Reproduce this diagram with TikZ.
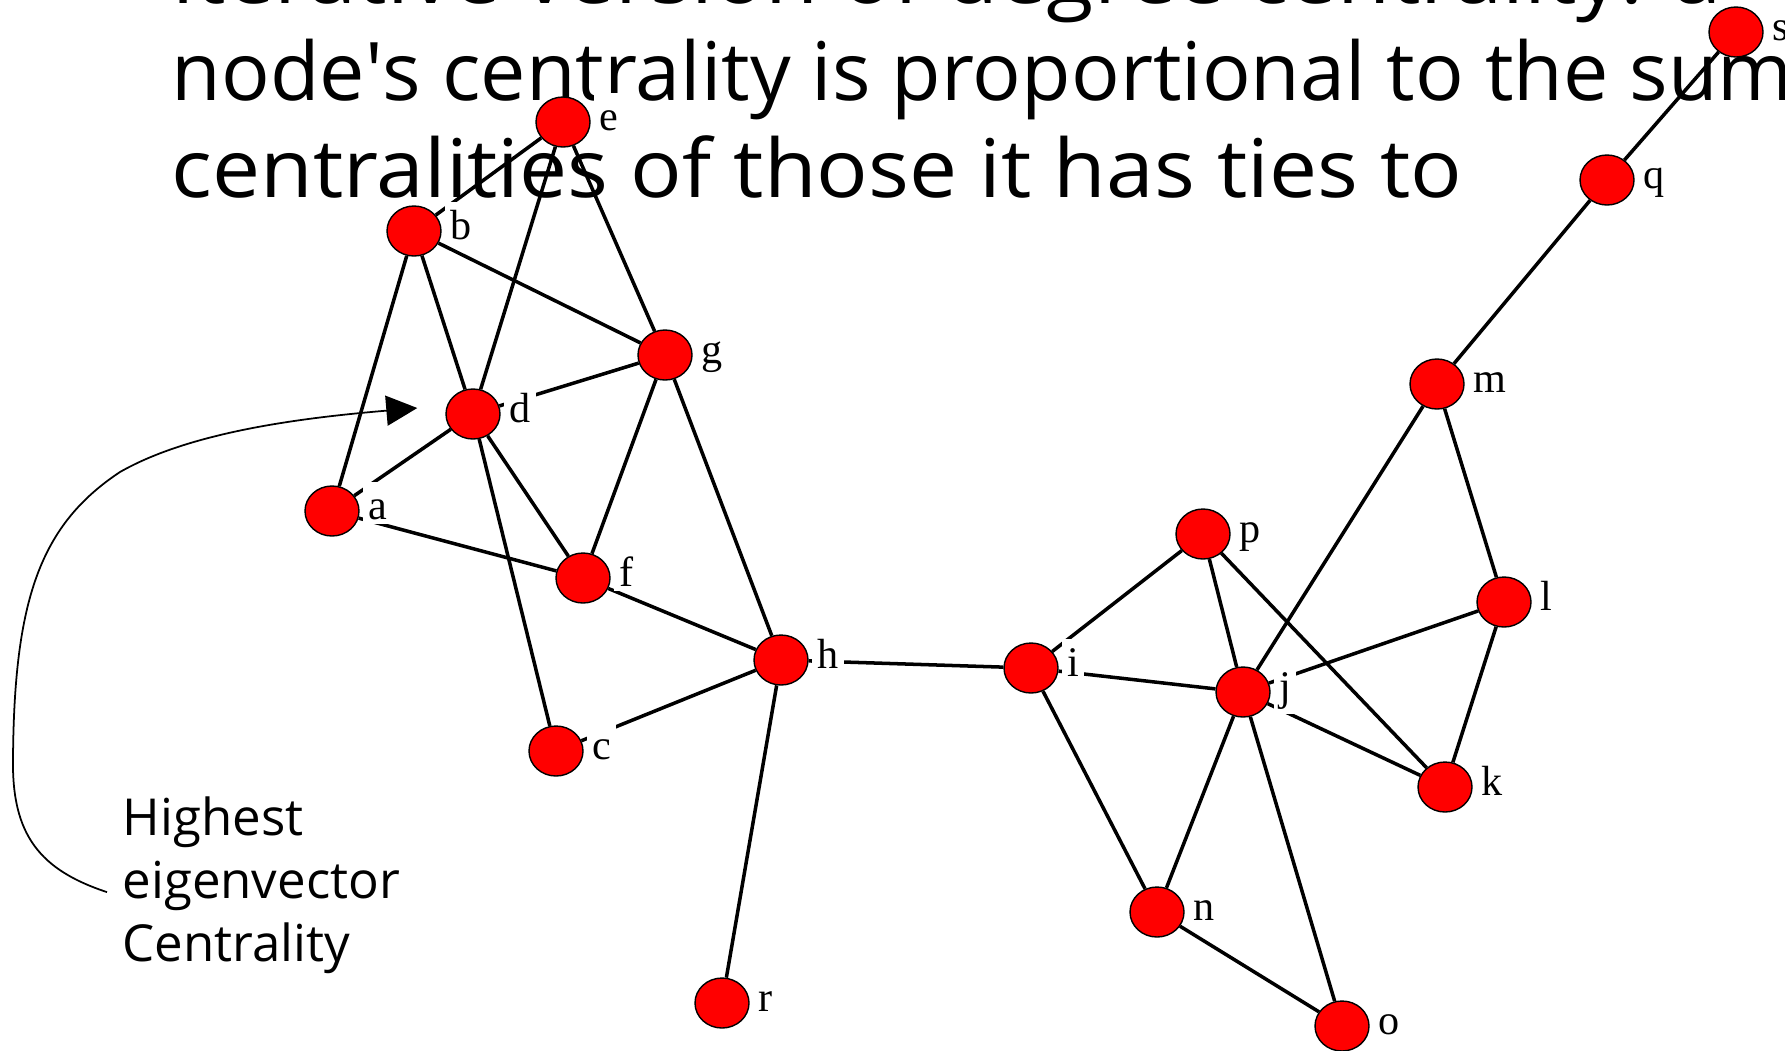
\documentclass[tikz,border=0pt]{standalone}
\usepackage{fontspec}
\newfontfamily\titlefont{Open Sans}
\newfontfamily\labfont{Liberation Serif}
\usetikzlibrary{shapes.geometric, arrows.meta, backgrounds}

\tikzset{
  vertex/.style={ellipse, draw=black, line width=0.4pt, fill=red,
    minimum width=0.54cm, minimum height=0.50cm, inner sep=0pt},
  lab/.style={fill=white, inner sep=0.05cm, text height=0.32cm, anchor=base west,
    yshift=-0.08cm, font=\labfont\fontsize{12}{12}\selectfont},
  tie/.style={line width=1pt, black},
}

\begin{document}
\begin{tikzpicture}[label distance=0.03cm]
	\useasboundingbox (0,0) rectangle (17.85,-10.5);
	\clip (0,0) rectangle (17.85,-10.5);
	
	% heading, cut at the top
	\begin{scope}[font=\titlefont\fontsize{23}{27}\selectfont, inner sep=0pt]
		\node[anchor=base west, xscale=1.07, transform shape] (title1) at (1.71,-0.03) {Iterative version of degree centrality: a};
		\node[anchor=base west] (title2) at (1.71,-1.00) {node\textquotesingle s centrality is proportional to the sum};
		\node[anchor=base west, xscale=1.06, transform shape] (title3) at (1.71,-1.97) {centralities of those it has ties to};
	\end{scope}
	
	% actors
	\node[vertex, label={[lab]right:s}] (s) at (17.36,-0.32) {};
	\node[vertex, label={[lab]right:e}] (e) at (5.63,-1.22) {};
	\node[vertex, label={[lab]right:q}] (q) at (16.07,-1.80) {};
	\node[vertex, label={[lab]right:b}] (b) at (4.14,-2.31) {};
	\node[vertex, label={[lab]right:g}] (g) at (6.65,-3.55) {};
	\node[vertex, label={[lab]right:m}] (m) at (14.37,-3.84) {};
	\node[vertex, label={[lab]right:d}] (d) at (4.73,-4.14) {};
	\node[vertex, label={[lab]right:a}] (a) at (3.32,-5.11) {};
	\node[vertex, label={[lab]right:p}] (p) at (12.03,-5.34) {};
	\node[vertex, label={[lab]right:f}] (f) at (5.83,-5.78) {};
	\node[vertex, label={[lab]right:l}] (l) at (15.04,-6.02) {};
	\node[vertex, label={[lab]right:h}] (h) at (7.81,-6.60) {};
	\node[vertex, label={[lab]right:i}] (i) at (10.31,-6.68) {};
	\node[vertex, label={[lab]right:j}] (j) at (12.43,-6.92) {};
	\node[vertex, label={[lab]right:c}] (c) at (5.56,-7.51) {};
	\node[vertex, label={[lab]right:k}] (k) at (14.45,-7.87) {};
	\node[vertex, label={[lab]right:n}] (n) at (11.57,-9.12) {};
	\node[vertex, label={[lab]right:r}] (r) at (7.22,-10.03) {};
	\node[vertex, label={[lab]right:o}] (o) at (13.42,-10.26) {};
	
	% ties
	\begin{scope}[on background layer]
		\foreach \u/\v in {b/e, b/d, b/a, b/g, e/d, e/g, g/d, g/f, g/h, d/a, d/f, d/c,
			a/f, f/h, h/c, h/r, h/i, i/p, i/j, i/n, p/j, p/k, j/m, j/l, j/k, j/n, j/o,
			n/o, m/l, m/q, l/k, q/s}
			\draw[tie] (\u) -- (\v);
	\end{scope}
	
	% note pointing at d
	\node[anchor=north west, inner sep=0pt, align=left,
		font=\titlefont\fontsize{14.5}{17.9}\selectfont] (note) at (1.22,-7.96)
		{Highest\\eigenvector\\Centrality};
	\coordinate (arrstart) at ([shift={(-0.15,-0.07)}]note.west);
	\coordinate (arrtip) at ([shift={(-0.28,0.06)}]d.west);
	\draw[-{Triangle[length=0.31cm, width=0.30cm]}, line width=0.5pt] (arrstart)
		.. controls (0.40,-8.70) and (0.12,-8.35) .. (0.13,-7.60)
		.. controls (0.14,-6.00) and (0.40,-5.25) .. (1.20,-4.72)
		.. controls (1.90,-4.32) and (3.00,-4.18) .. (arrtip);
	
\end{tikzpicture}
\end{document}
